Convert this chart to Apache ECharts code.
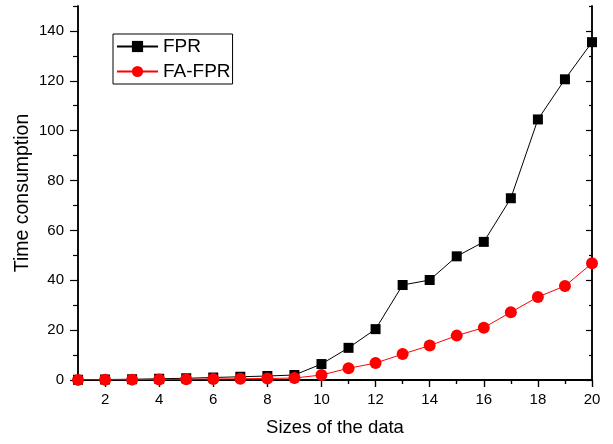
<!DOCTYPE html>
<html><head><meta charset="utf-8">
<script src="https://cdn.jsdelivr.net/npm/echarts@6/dist/echarts.min.js"></script>
<style>html,body{margin:0;padding:0;background:#fff}#c{width:613px;height:444px}</style>
</head><body><div id="c"></div>
<script>
var sizes = [1,2,3,4,5,6,7,8,9,10,11,12,13,14,15,16,17,18,19,20];
var fpr = [0.1,0.2,0.3,0.5,0.7,1.0,1.3,1.6,2.0,6.4,12.9,20.4,38.1,40.1,49.6,55.4,72.9,104.5,120.6,135.5];
var fafpr = [0.05,0.1,0.15,0.2,0.3,0.4,0.5,0.6,0.8,2.0,4.7,6.8,10.4,13.8,17.8,21.0,27.2,33.3,37.7,46.8];
var xMajor = [2,4,6,8,10,12,14,16,18,20];
var xMinor = [1,3,5,7,9,11,13,15,17,19];
var yMajor = [0,20,40,60,80,100,120,140];
var yMinor = [10,30,50,70,90,110,130,150];

var font = 'Liberation Sans, Arial, sans-serif';
var chart = echarts.init(document.getElementById('c'), null, {renderer:'canvas'});
function ax(pos, ticks, len, inside, opts){
  var o = {
    type:'value', position:pos, min: pos==='bottom'||pos==='top'?1:0, max: pos==='bottom'||pos==='top'?20:150,
    axisLine:{show:true, lineStyle:{color:'#000', width:1.5}},
    axisTick:{show:true, inside:inside, length:len, customValues:ticks, lineStyle:{color:'#000', width:1.2}},
    axisLabel:{show:false},
    splitLine:{show:false}
  };
  for (var k in opts) o[k]=opts[k];
  return o;
}
var pairs = function(a,b){ return a.map(function(v,i){return [v,b[i]];}); };
chart.setOption({
  animation:false,
  grid:{left:78, right:21, top:6, bottom:64, containLabel:false},
  legend:{
    orient:'vertical', left:113, top:34, padding:[3,2,3,3], itemGap:6,
    borderColor:'#000', borderWidth:1, itemWidth:41, itemHeight:14,
    textStyle:{fontFamily:font, fontSize:19, color:'#000'},
    data:['FPR','FA-FPR']
  },
  xAxis:[
    ax('bottom', xMajor, 7, false, {
      axisLabel:{show:true, customValues:xMajor, fontFamily:font, fontSize:15, color:'#000', margin:12},
      name:'Sizes of the data', nameLocation:'middle', nameGap:38, nameMoveOverlap:false,
      nameTextStyle:{fontFamily:font, fontSize:18.5, color:'#000'}
    }),
    ax('bottom', xMinor, 4, false, {}),
    ax('top', xMajor, 7, true, {}),
    ax('top', xMinor, 4, true, {})
  ],
  yAxis:[
    ax('left', yMajor, 8, false, {
      axisLabel:{show:true, customValues:yMajor, fontFamily:font, fontSize:15, color:'#000', margin:14},
      name:'Time consumption', nameLocation:'middle', nameGap:45, nameMoveOverlap:false,
      nameTextStyle:{fontFamily:font, fontSize:19.5, color:'#000'}
    }),
    ax('left', yMinor, 5, false, {}),
    ax('right', yMajor, 6, true, {}),
    ax('right', yMinor, 3, true, {})
  ],
  series:[
    {name:'FPR', type:'line', data:pairs(sizes,fpr), symbol:'rect', symbolSize:10,
     itemStyle:{color:'#000'}, lineStyle:{color:'#000', width:1}, clip:true},
    {name:'FA-FPR', type:'line', data:pairs(sizes,fafpr), symbol:'circle', symbolSize:12,
     itemStyle:{color:'#ff0000'}, lineStyle:{color:'#ff0000', width:1}, clip:true}
  ]
});
</script></body></html>
